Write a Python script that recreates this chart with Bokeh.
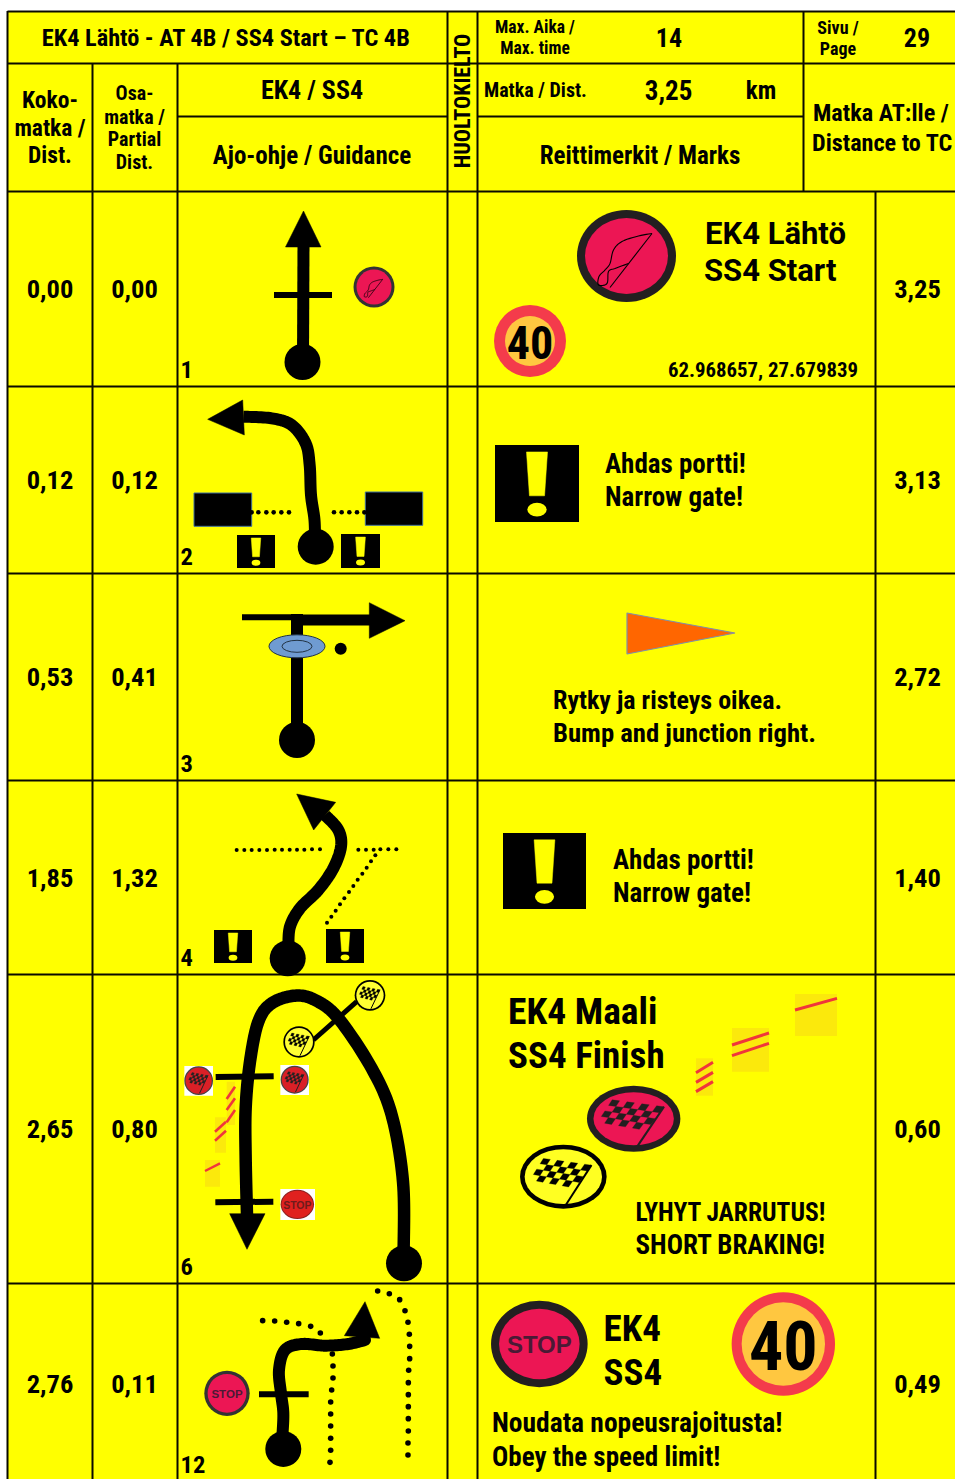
from bokeh.plotting import figure
from bokeh.models import Range1d
from bokeh.embed import file_html
from bokeh.resources import INLINE
from bokeh.core.properties import value
import math

# ---------- data ----------
total_dist = ["0,00", "0,12", "0,53", "1,85", "2,65", "2,76"]
partial_dist = ["0,00", "0,12", "0,41", "1,32", "0,80", "0,11"]
to_tc = ["3,25", "3,13", "2,72", "1,40", "0,60", "0,49"]
row_numbers = ["1", "2", "3", "4", "6", "12"]
title = "EK4 Lähtö - AT 4B / SS4 Start – TC 4B"
max_time = "14"
page_no = "29"
stage_dist = "3,25"
coords = "62.968657, 27.679839"

NARROW = "Roboto Condensed"
WIDE = "Roboto"
YEL = "#FFFF00"
PINK = "#EC1654"
DARK = "#231F20"

p = figure(width=955, height=1479, x_range=Range1d(0.5, 955.5), y_range=Range1d(1479.5, 0.5),
           toolbar_location=None, output_backend="svg", min_border=0,
           background_fill_color="white", border_fill_color="white", outline_line_color=None)
p.axis.visible = False
p.grid.visible = False


def T(x, y, s, size, align="left", font=NARROW, style="bold", angle=0.0, color="black"):
    p.text([x], [y], text=[s], text_font=value(font), text_font_size=f"{size}px",
           text_font_style=style, text_align=align, text_baseline="middle",
           text_color=color, angle=angle)


def Z(x0, y0, pts):
    return [(x0 + a / 3, y0 + b / 3) for a, b in pts]


def L(pts, w=2.0, color="black", cap="butt"):
    p.line([a for a, b in pts], [b for a, b in pts], line_width=w, line_color=color,
           line_cap=cap, line_join="round")


def smooth(pts, n=14):
    pp = [pts[0]] + list(pts) + [pts[-1]]
    out = []
    for i in range(1, len(pp) - 2):
        p0, p1, p2, p3 = pp[i - 1], pp[i], pp[i + 1], pp[i + 2]
        for k in range(n):
            t = k / n
            out.append(tuple(0.5 * (2 * p1[c] + (p2[c] - p0[c]) * t
                                    + (2 * p0[c] - 5 * p1[c] + 4 * p2[c] - p3[c]) * t * t
                                    + (3 * p1[c] - p0[c] - 3 * p2[c] + p3[c]) * t ** 3)
                             for c in (0, 1)))
    out.append(pts[-1])
    return out


def poly(pts, color="black", line=None, lw=1.0):
    p.patch([a for a, b in pts], [b for a, b in pts], fill_color=color,
            line_color=line if line else color, line_width=lw if line else 0.5)


def box(x0, y0, x1, y1, color, line=None, lw=1.0):
    p.quad(left=[x0], right=[x1], top=[y0], bottom=[y1], fill_color=color,
           line_color=line, line_width=lw)


def E(cx, cy, rx, ry, color="black", line=None, lw=1.0):
    p.ellipse([cx], [cy], width=[2 * rx], height=[2 * ry], fill_color=color,
              line_color=line, line_width=lw)


def ring(cx, cy, rx, ry, t, outer, inner):
    E(cx, cy, rx, ry, outer)
    E(cx, cy, rx - t, ry - t, inner)


def dots(pts, r=2.3):
    p.circle([a for a, b in pts], [b for a, b in pts], radius=r, fill_color="black", line_color=None)


def warn(x0, y0, x1, y1):
    box(x0, y0, x1, y1, "black")
    w, h = x1 - x0, y1 - y0
    cx = (x0 + x1) / 2
    poly([(cx - .125 * w, y0 + .09 * h), (cx + .125 * w, y0 + .09 * h),
          (cx + .09 * w, y0 + .66 * h), (cx - .09 * w, y0 + .66 * h)], YEL)
    E(cx, y0 + .84 * h, .115 * w, .09 * h, YEL)


def checker(cx, cy, rx, ry, color):
    TL, TR, BR, BL = (-.46, -.57), (.65, -.36), (.27, .36), (-.77, .10)
    rows, cols = 4, 7

    def at(u, v):
        a = (TL[0] + (TR[0] - TL[0]) * u, TL[1] + (TR[1] - TL[1]) * u)
        b = (BL[0] + (BR[0] - BL[0]) * u, BL[1] + (BR[1] - BL[1]) * u)
        return (cx + rx * (a[0] + (b[0] - a[0]) * v), cy + ry * (a[1] + (b[1] - a[1]) * v))

    xs, ys = [], []
    for r_ in range(rows):
        for c in range(cols):
            if (r_ + c) % 2 == 0:
                q = [at(c / cols, r_ / rows), at((c + 1) / cols, r_ / rows),
                     at((c + 1) / cols, (r_ + 1) / rows), at(c / cols, (r_ + 1) / rows)]
                xs.append([a for a, b in q])
                ys.append([b for a, b in q])
    p.patches(xs, ys, fill_color=color, line_color=color, line_width=0.3)
    L([(cx + rx * .65, cy - ry * .36), (cx + rx * .06, cy + ry * .88)], max(1.0, rx * 0.045), color)


def hand_flag(cx, cy, rx, ry, lw):
    outline = [(.51, -.45), (.24, -.40), (-.09, -.29), (-.26, -.12), (-.33, .15), (-.43, .28),
               (-.55, .41), (-.56, .58), (-.39, .55), (-.36, .31), (-.23, .25), (.04, .15)]
    L([(cx + rx * a, cy + ry * b) for a, b in smooth(outline, 6)], lw)
    L([(cx + rx * .51, cy - ry * .45), (cx - rx * .33, cy + ry * .63)], lw)


def sign40(cx, cy, r, t, size):
    E(cx, cy, r, r, "#F43B4B")
    E(cx, cy, r - t, r - t, "#FFC740")
    T(cx, cy + 1, "40", size, "center", font=NARROW)


def stripes(x0, y0, x1, y1, lines, w):
    box(x0, y0, x1, y1, "#FBE90C")
    for a, b, c, d in lines:
        L([(a, b), (c, d)], w, "#F0353B")


# ---------- table ----------
box(7.5, 11, 955.5, 1479.5, YEL)
hl = [(7.5, 955.5, 11.5), (7.5, 955.5, 63.5), (177.5, 447.5, 116.5), (477.5, 803.5, 116.5), (7.5, 955.5, 191.5),
      (7.5, 955.5, 386.5), (7.5, 955.5, 573.5), (7.5, 955.5, 780.5), (7.5, 955.5, 974.5), (7.5, 955.5, 1283.5)]
vl = [(7.5, 11, 1479.5), (92.5, 63, 1479.5), (177.5, 63, 1479.5), (447.5, 11, 1479.5), (477.5, 11, 1479.5),
      (803.5, 11, 191.5), (875.5, 191, 1479.5)]
for a, b, y in hl:
    L([(a, y), (b, y)], 2, "#0a0a00")
for x, a, b in vl:
    L([(x, a), (x, b)], 2, "#0a0a00")

row_y = [289, 480, 677, 878, 1129, 1384]
num_y = [369, 556, 763, 957, 1266, 1464]
for i in range(6):
    T(50, row_y[i], total_dist[i], 26.5, "center")
    T(134.5, row_y[i], partial_dist[i], 26.5, "center")
    T(917.5, row_y[i], to_tc[i], 26.5, "center")
    T(180.5, num_y[i], row_numbers[i], 24.5, "left")

# ---------- header ----------
T(226.5, 37, title, 24.3, "center")
for y, s in zip((100, 128, 155), ("Koko-", "matka /", "Dist.")):
    T(50, y, s, 23.5, "center")
for y, s in zip((93, 117, 139, 162), ("Osa-", "matka /", "Partial", "Dist.")):
    T(134.5, y, s, 20, "center")
T(312, 90, "EK4 / SS4", 26, "center")
T(312, 155, "Ajo-ohje / Guidance", 25, "center")
T(462, 101, "HUOLTOKIELTO", 22, "center", angle=math.pi / 2)
T(535, 27, "Max. Aika /", 17.5, "center")
T(535, 48, "Max. time", 17.5, "center")
T(669, 37, max_time, 26, "center")
T(838, 27, "Sivu /", 18, "center")
T(838, 48, "Page", 18, "center")
T(917, 37, page_no, 26, "center")
T(484, 90, "Matka / Dist.", 20, "left")
T(668.5, 90, stage_dist, 27, "center")
T(761, 90, "km", 25, "center")
T(640, 155, "Reittimerkit / Marks", 25, "center")
T(813, 113, "Matka AT:lle /", 24.2, "left")
T(812, 143, "Distance to TC", 24.2, "left")

# ---------- row 1 guidance ----------
L([(303.5, 245), (303, 362)], 12)
poly([(303.5, 211), (321, 247), (285.5, 247)])
L([(274, 295), (332, 295)], 6)
E(302.5, 362, 18, 18)
ring(374, 287, 20.5, 20.5, 3, "#333333", PINK)
hand_flag(374, 287, 17, 17, 0.7)
# row 1 marks
ring(626.5, 256, 49.5, 46, 8, DARK, PINK)
hand_flag(626.5, 256, 50, 50, 1.1)
T(705, 233, "EK4 Lähtö", 31, font=WIDE, style="bold")
T(704, 270, "SS4 Start", 31, font=WIDE, style="bold")
sign40(530, 341, 36, 11, 46)
T(668, 370, coords, 20.8, "left")

# ---------- row 2 ----------
L(smooth(Z(175, 385, [(420, 450), (418, 400), (408, 330), (404, 240), (392, 175), (350, 120),
                      (290, 100), (205, 95)])), 12)
poly(Z(175, 385, [(98, 103), (203, 45), (208, 150)]))
E(315.7, 546.7, 18, 18)
box(194, 493, 251.7, 526.3, "black", "#41719C", 1)
box(365.3, 492, 422.7, 525.3, "black", "#41719C", 1)
dots(Z(175, 385, [(230, 382), (250, 382), (274, 382), (296, 382), (319, 382), (342, 382),
                  (477, 382), (500, 382), (523, 382), (546, 382), (568, 382)]))
warn(237, 535, 275, 568)
warn(341, 534, 380, 568)
warn(495, 445, 579, 522)
T(605, 464, "Ahdas portti!", 27)
T(605, 497, "Narrow gate!", 27)

# ---------- row 3 ----------
L([(242, 617.3), (298, 617.3)], 6)
L([(292, 620), (370, 620)], 11)
L([(297, 614), (297, 740)], 12)
poly([(405, 620.7), (369.3, 602.7), (369.3, 638.3)])
E(297, 646.3, 28, 11.5, "#6F9BD1", "#223344", 1)
E(297, 646.3, 15, 6, None, "#223344", 1)
E(340.7, 648.7, 6, 6)
E(297, 740, 18, 18)
poly([(627, 613), (735, 633), (627, 654)], "#FF6600", "#7F8FA9", 1.2)
T(553, 700, "Rytky ja risteys oikea.", 26)
T(553, 733, "Bump and junction right.", 26.7)

# ---------- row 4 ----------
L(smooth(Z(175, 780, [(340, 500), (345, 440), (375, 385), (430, 330), (475, 265), (498, 200),
                      (490, 150), (450, 105)])), 12)
poly(Z(175, 780, [(365, 42), (482, 67), (416, 150)]))
E(287.7, 958.3, 18, 18)
dots(Z(175, 780, [(185, 210), (208, 210), (230, 210), (253, 210), (276, 210), (299, 209), (321, 209),
                  (344, 209), (366, 209), (388, 209), (411, 208), (435, 208),
                  (550, 209), (573, 209), (596, 209), (616, 208), (640, 208), (664, 208),
                  (601, 226), (588, 244), (575, 263), (562, 281), (548, 299), (535, 318),
                  (522, 336), (508, 355), (495, 373), (482, 392), (469, 410), (456, 428)]), 2.0)
warn(214, 930, 252, 963)
warn(326, 929, 364, 963)
warn(503, 833, 586, 909)
T(613, 860, "Ahdas portti!", 27)
T(613, 893, "Narrow gate!", 27)

# ---------- row 5 guidance ----------
X5, Y5 = 175, 975
L(Z(X5, Y5, [(415, 195), (545, 80)]), 5)
L(smooth(Z(X5, Y5, [(686, 830), (684, 620), (650, 420), (590, 280), (490, 130), (420, 75), (360, 62),
                    (290, 85), (250, 140), (225, 260), (212, 400), (212, 550), (216, 720)])), 12.5)
poly(Z(X5, Y5, [(216, 823), (164, 716), (270, 716)]))
E(404, 1263.3, 18, 18)
L(Z(X5, Y5, [(122, 306), (296, 304)]), 6)
L(Z(X5, Y5, [(121, 682), (295, 680)]), 6)
for zx, zy, zr in ((372, 201, 47), (585, 61, 46)):
    (cx, cy), = Z(X5, Y5, [(zx, zy)])
    ring(cx, cy, zr / 3, zr / 3, 1.7, "black", "#FFFF33")
    checker(cx, cy, zr / 3, zr / 3, "black")
for a, b, c, d, zx, zy, zr in ((28, 273, 114, 362, 71, 317, 43), (316, 270, 402, 360, 359, 314, 42)):
    (x0, y0), (x1, y1), (cx, cy) = Z(X5, Y5, [(a, b), (c, d), (zx, zy)])
    box(x0, y0, x1, y1, "white")
    ring(cx, cy, zr / 3, zr / 3, 1.2, "#444444", "#D92027")
    checker(cx, cy, zr / 3, zr / 3, "#222222")
(x0, y0), (x1, y1), (cx, cy) = Z(X5, Y5, [(316, 642), (420, 735), (367, 688)])
box(x0, y0, x1, y1, "white")
ring(cx, cy, 16.7, 14.7, 1, "#8a2020", "#E0211F")
T(cx, cy + .5, "STOP", 10.5, "center", font="Liberation Sans", color="#6E1B1B")


def seg(x0, y0, vals):
    return [tuple(c for c2 in Z(x0, y0, [(v[0], v[1]), (v[2], v[3])]) for c in c2) for v in vals]


for rect, lines, w in (((155, 320, 180, 450), [(155, 372, 180, 335), (155, 405, 180, 370), (155, 442, 180, 405)], 2.6),
                       ((120, 427, 153, 533), [(120, 470, 153, 440), (120, 497, 153, 467)], 2.6),
                       ((90, 555, 135, 635), [(90, 588, 135, 565)], 2.4)):
    (x0, y0), (x1, y1) = Z(X5, Y5, [rect[:2], rect[2:]])
    stripes(x0, y0, x1, y1, seg(X5, Y5, lines), w)

# row 5 marks
X5m, Y5m = 480, 975
T(508, 1011, "EK4 Maali", 37.5)
T(508, 1055, "SS4 Finish", 37)
T(635.5, 1211.7, "LYHYT JARRUTUS!", 25.5)
T(635.5, 1245, "SHORT BRAKING!", 27)
for rect, lines, w in (((648, 250, 699, 362), [(648, 293, 699, 262), (648, 322, 699, 292), (648, 350, 699, 320)], 3),
                       ((756, 159, 867, 290), [(756, 210, 867, 174), (756, 242, 867, 205)], 3),
                       ((945, 57, 1071, 183), [(945, 105, 1071, 70)], 3)):
    (x0, y0), (x1, y1) = Z(X5m, Y5m, [rect[:2], rect[2:]])
    stripes(x0, y0, x1, y1, seg(X5m, Y5m, lines), w)
(cx, cy), = Z(X5m, Y5m, [(461, 431)])
ring(cx, cy, 46.7, 33, 6.5, DARK, PINK)
checker(cx, cy, 46.7, 33, "#231F20")
(cx, cy), = Z(X5m, Y5m, [(250, 605)])
ring(cx, cy, 43.3, 32, 4.6, "black", "#FFFF22")
checker(cx, cy, 43.3, 32, "black")

# ---------- row 6 ----------
X6, Y6 = 175, 1280
L(smooth(Z(X6, Y6, [(322, 470), (325, 400), (318, 340), (312, 270), (330, 210), (380, 192),
                    (450, 197), (520, 192), (570, 180)])), 12, cap="round")
poly(Z(X6, Y6, [(570, 65), (508, 167), (614, 175)]))
E(283.3, 1449, 18, 18)
L(Z(X6, Y6, [(252, 343), (401, 343)]), 6)
(cx, cy), = Z(X6, Y6, [(156, 340)])
ring(cx, cy, 22.7, 22.7, 3.3, "#333333", PINK)
T(cx, cy + .5, "STOP", 11.5, "center", font="Liberation Sans", color="#4A1A35")
dots(Z(X6, Y6, [(263, 122), (299, 123), (335, 127), (371, 131), (407, 139), (436, 159), (472, 222),
                (474, 258), (474, 294), (470, 330), (467, 366), (467, 402), (467, 438), (467, 475),
                (467, 511), (465, 547), (608, 33), (643, 41), (674, 59), (690, 92), (699, 127),
                (703, 163), (704, 199), (704, 236), (701, 271), (700, 308), (700, 344), (700, 380),
                (700, 416), (700, 453), (699, 489), (699, 525)]), 2.8)
(cx, cy), = Z(480, 1285, [(178, 177)])
ring(cx, cy, 48.3, 43.3, 8, DARK, PINK)
T(cx, cy + .5, "STOP", 24, "center", font="Liberation Sans", color="#4A1A35")
T(603.5, 1328, "EK4", 37)
T(603.5, 1372, "SS4", 37)
(cx, cy), = Z(480, 1285, [(910, 177)])
sign40(cx, cy, 51.7, 10, 68)
T(492, 1422, "Noudata nopeusrajoitusta!", 27.5)
T(492, 1457, "Obey the speed limit!", 27)

open("out.html", "w").write(file_html(p, INLINE))
